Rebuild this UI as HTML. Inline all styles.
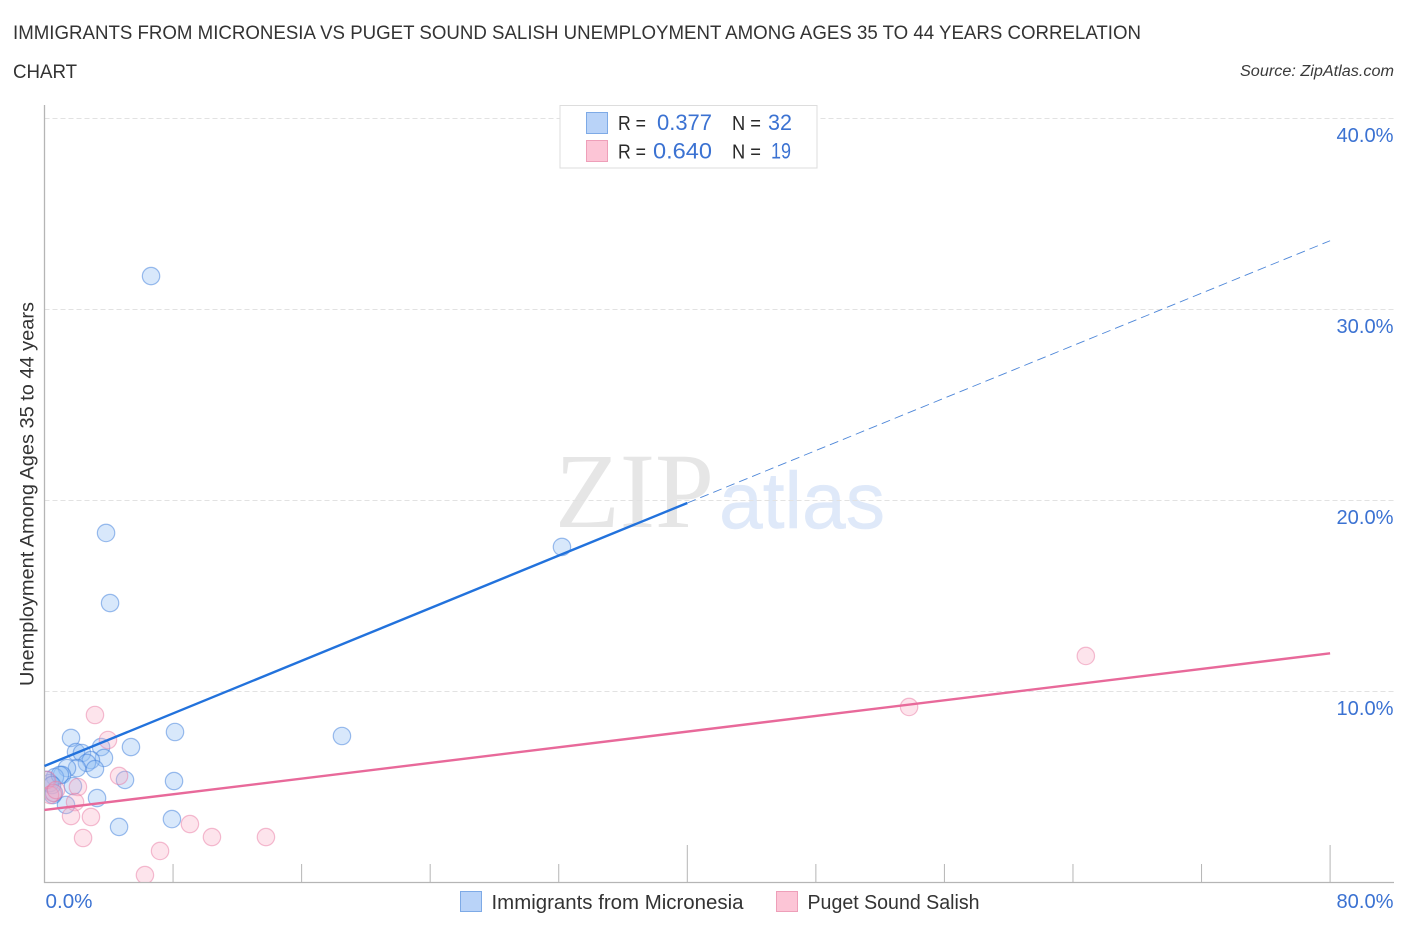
<!DOCTYPE html>
<html lang="en">
<head>
<meta charset="utf-8">
<title>Immigrants from Micronesia vs Puget Sound Salish Unemployment Correlation Chart</title>
<style>
html,body{margin:0;padding:0;background:#fff;width:1406px;height:930px;overflow:hidden}
svg{display:block;font-family:"Liberation Sans",sans-serif}
</style>
</head>
<body>
<svg id="chart" xmlns="http://www.w3.org/2000/svg" width="1406" height="930" viewBox="0 0 1406 930">
  <defs>
    <clipPath id="plot-clip"><rect x="45" y="100" width="1300" height="782"/></clipPath>
  </defs>
  <rect x="0" y="0" width="1406" height="930" fill="#ffffff"/>
  <text x="13" y="39" font-size="19.5" fill="#333333" textLength="1128" lengthAdjust="spacingAndGlyphs">IMMIGRANTS FROM MICRONESIA VS PUGET SOUND SALISH UNEMPLOYMENT AMONG AGES 35 TO 44 YEARS CORRELATION</text>
  <text x="13" y="78" font-size="19.5" fill="#333333" textLength="64" lengthAdjust="spacingAndGlyphs">CHART</text>
  <text x="1394" y="76" font-size="15.5" font-style="italic" fill="#3a3a3a" text-anchor="end" textLength="154" lengthAdjust="spacingAndGlyphs">Source: ZipAtlas.com</text>

  <g id="watermark">
    <text x="555" y="527" font-family="'Liberation Serif',serif" font-size="107" fill="#e6e6e6" textLength="159" lengthAdjust="spacingAndGlyphs">ZIP</text>
    <text x="719" y="528" font-size="80" fill="#dfe9f9" stroke="#dfe9f9" stroke-width="0.5" textLength="166" lengthAdjust="spacingAndGlyphs">atlas</text>
  </g>

  <g id="grid"></g>
  <g id="axes"></g>
  <g id="points-blue" clip-path="url(#plot-clip)"></g>
  <g id="points-pink" clip-path="url(#plot-clip)"></g>
  <g id="trends"></g>
  <g id="tick-labels"></g>

  <text transform="translate(33.500,494) rotate(-90)" font-size="19" fill="#333333" text-anchor="middle" textLength="384" lengthAdjust="spacingAndGlyphs">Unemployment Among Ages 35 to 44 years</text>

  <g>
    <rect x="560" y="105.500" width="257" height="62.500" fill="#ffffff" stroke="#dddddd" stroke-width="1"/>
    <rect x="586.500" y="112.500" width="21" height="21" fill="#b9d3f8" stroke="#7eaae6" stroke-width="1"/>
    <rect x="586.500" y="140.500" width="21" height="21" fill="#fcc5d6" stroke="#ee9fb9" stroke-width="1"/>
    <text x="618" y="130" font-size="20" fill="#2a2a2a" textLength="28" lengthAdjust="spacingAndGlyphs">R =</text>
    <text x="657" y="130" font-size="22" fill="#3b72d2" textLength="55" lengthAdjust="spacingAndGlyphs">0.377</text>
    <text x="732" y="130" font-size="20" fill="#2a2a2a" textLength="29" lengthAdjust="spacingAndGlyphs">N =</text>
    <text x="768" y="130" font-size="22" fill="#3b72d2" textLength="24" lengthAdjust="spacingAndGlyphs">32</text>
    <text x="618" y="158.500" font-size="20" fill="#2a2a2a" textLength="28" lengthAdjust="spacingAndGlyphs">R =</text>
    <text x="653" y="158.500" font-size="22" fill="#3b72d2" textLength="59" lengthAdjust="spacingAndGlyphs">0.640</text>
    <text x="732" y="158.500" font-size="20" fill="#2a2a2a" textLength="29" lengthAdjust="spacingAndGlyphs">N =</text>
    <text x="771" y="158.500" font-size="22" fill="#3b72d2" textLength="20" lengthAdjust="spacingAndGlyphs">19</text>
  </g>

  <g>
    <rect x="460.500" y="891.500" width="21" height="20" fill="#b9d3f8" stroke="#7eaae6" stroke-width="1"/>
    <text x="491.500" y="909" font-size="20" fill="#333333" textLength="252" lengthAdjust="spacingAndGlyphs">Immigrants from Micronesia</text>
    <rect x="776.500" y="891.500" width="21" height="20" fill="#fcc5d6" stroke="#ee9fb9" stroke-width="1"/>
    <text x="807.500" y="909" font-size="20" fill="#333333" textLength="172" lengthAdjust="spacingAndGlyphs">Puget Sound Salish</text>
  </g>
</svg>
<script>
const yTickValues = [10, 20, 30, 40];
const yTickLabels = ["10.0%", "20.0%", "30.0%", "40.0%"];
const xTickValues = [8, 16, 24, 32, 40, 48, 56, 64, 72, 80];
const xMajorTicks = [40, 80];
const xEndValues = [0, 80];
const xEndLabels = ["0.0%", "80.0%"];

const micronesiaX = [6.63, 3.83, 4.08, 32.2, 18.51, 8.12, 8.06, 7.93, 5.01, 4.64, 3.27, 5.38, 3.52, 3.70, 1.65, 1.96, 2.33, 2.89, 2.64, 3.14, 2.02, 1.40, 1.09, 0.65, 1.77, 1.34, 0.53, 0.34, 0.09, 0.96, 0.47, 0.59];
const micronesiaY = [31.75, 18.3, 14.63, 17.57, 7.67, 7.88, 5.31, 3.32, 5.37, 2.91, 4.42, 7.09, 7.09, 6.52, 7.57, 6.83, 6.78, 6.41, 6.26, 5.94, 5.99, 5.99, 5.63, 5.52, 5.05, 4.06, 4.58, 5.21, 5.37, 5.63, 5.1, 4.69];
const salishX = [3.14, 3.95, 4.64, 2.08, 1.90, 1.65, 2.89, 2.4, 9.05, 10.42, 13.78, 7.19, 6.25, 64.8, 53.8, 0.53, 0.16, 0.34, 0.72];
const salishY = [8.77, 7.46, 5.58, 5.0, 4.21, 3.48, 3.43, 2.33, 3.06, 2.38, 2.38, 1.65, 0.39, 11.86, 9.19, 4.69, 5.37, 4.58, 4.84];

const micronesiaTrendSolidX = [0, 40];
const micronesiaTrendSolidY = [6.1, 19.87];
const micronesiaTrendDashX = [40, 80];
const micronesiaTrendDashY = [19.87, 33.6];
const salishTrendX = [0, 80];
const salishTrendY = [3.8, 12.0];

const NS = 'http://www.w3.org/2000/svg';
function xScale(v) { return 44.5 + v * 16.07; }
function yScale(v) { return 882.5 - v * 19.1; }
function make(tag, attrs, parent) {
  const el = document.createElementNS(NS, tag);
  for (const k in attrs) el.setAttribute(k, attrs[k]);
  parent.appendChild(el);
  return el;
}

const grid = document.getElementById('grid');
const axes = document.getElementById('axes');
const labels = document.getElementById('tick-labels');
const bluePts = document.getElementById('points-blue');
const pinkPts = document.getElementById('points-pink');
const trends = document.getElementById('trends');

yTickValues.forEach(function (v, i) {
  const line = make('line', {x1: 44.5, x2: 1394, y1: yScale(v), y2: yScale(v), stroke: '#e2e2e2', 'stroke-width': 1, 'stroke-dasharray': '5 3'}, grid);
  
  
  const t = make('text', {x: 1393.5, y: yScale(v) + 23.5, 'font-size': 20.5, fill: '#3b72d2', 'text-anchor': 'end', textLength: 57, lengthAdjust: 'spacingAndGlyphs'}, labels);
  t.textContent = yTickLabels[i];
  
  
});

const yAxis = make('line', {x1: 44.5, x2: 44.5, y1: 105, y2: 883, stroke: '#b5b5b5', 'stroke-width': 1.3}, axes);


const xAxis = make('line', {x1: 44, x2: 1394, y1: 882.5, y2: 882.5, stroke: '#b5b5b5', 'stroke-width': 1.3}, axes);



xTickValues.forEach(function (v) {
  const top = xMajorTicks.indexOf(v) >= 0 ? 845 : 864;
  const tick = make('line', {x1: xScale(v), x2: xScale(v), y1: top, y2: 882.5, stroke: '#b5b5b5', 'stroke-width': 1}, axes);
  
  
});

xEndValues.forEach(function (v, i) {
  const t = make('text', {x: i === 0 ? xScale(v) + 1 : 1393.5, y: 908, 'font-size': 20.5, fill: '#3b72d2', 'text-anchor': i === 0 ? 'start' : 'end', textLength: i === 0 ? 47 : 57, lengthAdjust: 'spacingAndGlyphs'}, labels);
  t.textContent = xEndLabels[i];
  
  
});

micronesiaX.forEach(function (v, i) {
  const c = make('circle', {cx: xScale(v), cy: yScale(micronesiaY[i]), r: 8.7, fill: 'rgba(147,190,245,0.36)', stroke: 'rgba(62,125,220,0.5)', 'stroke-width': 1.2}, bluePts);
  
  
});
salishX.forEach(function (v, i) {
  const c = make('circle', {cx: xScale(v), cy: yScale(salishY[i]), r: 8.7, fill: 'rgba(250,170,195,0.32)', stroke: 'rgba(232,120,160,0.48)', 'stroke-width': 1.2}, pinkPts);
  
  
});

const dash = make('line', {x1: xScale(micronesiaTrendDashX[0]), y1: yScale(micronesiaTrendDashY[0]), x2: xScale(micronesiaTrendDashX[1]), y2: yScale(micronesiaTrendDashY[1]), stroke: '#4d86d8', 'stroke-width': 0.9, 'stroke-dasharray': '9 5'}, trends);


const solid = make('line', {x1: xScale(micronesiaTrendSolidX[0]), y1: yScale(micronesiaTrendSolidY[0]), x2: xScale(micronesiaTrendSolidX[1]), y2: yScale(micronesiaTrendSolidY[1]), stroke: '#2272dc', 'stroke-width': 2.4}, trends);


const pinkLine = make('line', {x1: xScale(salishTrendX[0]), y1: yScale(salishTrendY[0]), x2: xScale(salishTrendX[1]), y2: yScale(salishTrendY[1]), stroke: '#e8699a', 'stroke-width': 2.4}, trends);


</script>
</body>
</html>
